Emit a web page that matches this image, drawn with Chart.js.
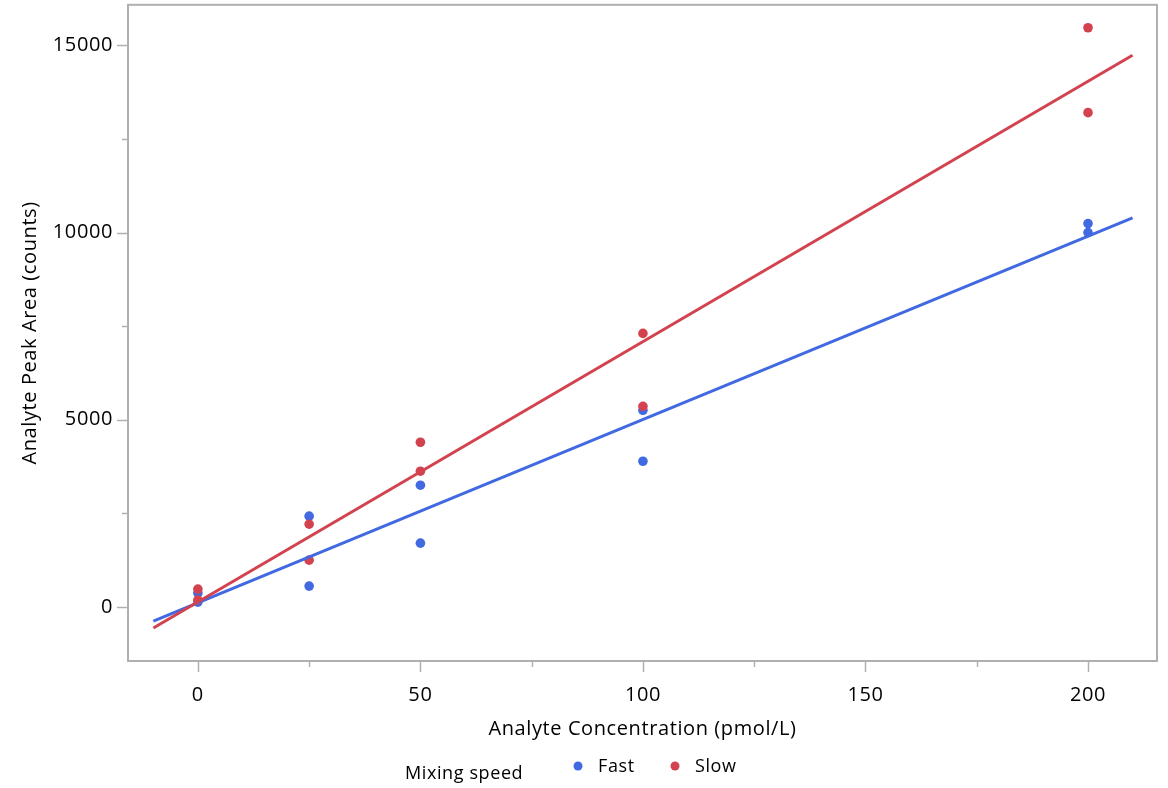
<!DOCTYPE html>
<html>
<head>
<meta charset="utf-8">
<script src="https://cdn.jsdelivr.net/npm/chart.js@4.4.1/dist/chart.umd.min.js"></script>
<style>
  html, body { margin: 0; padding: 0; background: #fff; }
  #wrap { width: 1168px; height: 788px; }
</style>
</head>
<body>
<div id="wrap"><canvas id="myChart" width="1168" height="788"></canvas></div>
<script>
// calibration samples: two replicates per concentration level
var concentrations = [0, 0, 25, 25, 50, 50, 100, 100, 200, 200];
var fastArea = [373, 133, 2427, 560, 3253, 1707, 5253, 3893, 10240, 10000];
var slowArea = [480, 187, 2213, 1253, 4400, 3627, 7307, 5360, 15467, 13200];
var xTicks = [0, 50, 100, 150, 200];
var xMinorTicks = [25, 75, 125, 175];
var yTicks = [0, 5000, 10000, 15000];
var yMinorTicks = [2500, 7500, 12500];
var fitRange = [-10, 210];

var BLUE = '#4169e1';
var RED = '#d2434f';
var AXIS = '#b0b0b0';
var TEXT = '#000000';
var FONT = '"Open Sans", "Noto Sans", sans-serif';

// ordinary least squares line, evaluated at the ends of fitRange
function fitLine(xs, ys) {
    var n = xs.length, mx = 0, my = 0;
    for (var i = 0; i < n; i++) { mx += xs[i]; my += ys[i]; }
    mx /= n; my /= n;
    var sxy = 0, sxx = 0;
    for (var j = 0; j < n; j++) {
        sxy += (xs[j] - mx) * (ys[j] - my);
        sxx += (xs[j] - mx) * (xs[j] - mx);
    }
    var slope = sxy / sxx, icpt = my - slope * mx;
    return fitRange.map(function (x) { return { x: x, y: icpt + slope * x }; });
}

function toPoints(xs, ys) {
    return xs.map(function (x, i) { return { x: x, y: ys[i] }; });
}

// slightly looser text tracking for all labels
var spacingPlugin = {
    id: 'spacing',
    beforeDraw: function (chart) { chart.ctx.letterSpacing = '0.6px'; }
};

// frame around the plot plus major/minor tick marks
var framePlugin = {
    id: 'frame',
    afterDraw: function (chart) {
        var ctx = chart.ctx, a = chart.chartArea;
        var sx = chart.scales.x, sy = chart.scales.y;
        ctx.save();
        ctx.strokeStyle = AXIS;
        ctx.lineWidth = 2;
        ctx.strokeRect(a.left, a.top, a.right - a.left, a.bottom - a.top);
        ctx.lineWidth = 1.5;
        function xt(v, len) {
            var p = Math.round(sx.getPixelForValue(v)) + 0.5;
            ctx.beginPath(); ctx.moveTo(p, a.bottom); ctx.lineTo(p, a.bottom + len); ctx.stroke();
        }
        function yt(v, len) {
            var p = Math.round(sy.getPixelForValue(v)) + 0.5;
            ctx.beginPath(); ctx.moveTo(a.left, p); ctx.lineTo(a.left - len, p); ctx.stroke();
        }
        xTicks.forEach(function (v) { xt(v, 11); });
        xMinorTicks.forEach(function (v) { xt(v, 6); });
        yTicks.forEach(function (v) { yt(v, 11); });
        yMinorTicks.forEach(function (v) { yt(v, 6); });
        ctx.restore();
    }
};

// legend row under the x axis title
var legendPlugin = {
    id: 'mixLegend',
    afterDraw: function (chart) {
        var ctx = chart.ctx;
        ctx.save();
        ctx.font = '18px ' + FONT;
        ctx.fillStyle = TEXT;
        ctx.textBaseline = 'middle';
        ctx.textAlign = 'left';
        ctx.fillText('Mixing speed', 405, 774);
        var items = [[BLUE, 'Fast', 578], [RED, 'Slow', 675]];
        items.forEach(function (it) {
            ctx.fillStyle = it[0];
            ctx.beginPath(); ctx.arc(it[2], 766, 4.5, 0, Math.PI * 2); ctx.fill();
            ctx.fillStyle = TEXT;
            ctx.fillText(it[1], it[2] + 20, 767);
        });
        ctx.restore();
    }
};

function plainLabel(v) { return String(v); }

function createChart() {
    var ctx = document.getElementById('myChart').getContext('2d');
    return new Chart(ctx, {
        type: 'scatter',
        data: {
            datasets: [
                {
                    label: 'Slow fit', type: 'line', order: 0,
                    data: fitLine(concentrations, slowArea),
                    borderColor: RED, borderWidth: 3, pointRadius: 0, fill: false
                },
                {
                    label: 'Fast fit', type: 'line', order: 1,
                    data: fitLine(concentrations, fastArea),
                    borderColor: BLUE, borderWidth: 3, pointRadius: 0, fill: false
                },
                {
                    label: 'Slow', order: 2,
                    data: toPoints(concentrations, slowArea),
                    backgroundColor: RED, borderWidth: 0, pointRadius: 4.8
                },
                {
                    label: 'Fast', order: 3,
                    data: toPoints(concentrations, fastArea),
                    backgroundColor: BLUE, borderWidth: 0, pointRadius: 4.8
                }
            ]
        },
        options: {
            responsive: false,
            animation: false,
            layout: { padding: { top: 4, right: 11, left: 0, bottom: 0 } },
            plugins: { legend: { display: false }, tooltip: { enabled: false } },
            scales: {
                x: {
                    type: 'linear', min: -15.7, max: 215.5,
                    afterBuildTicks: function (s) { s.ticks = xTicks.map(function (v) { return { value: v }; }); },
                    afterFit: function (s) { s.height = 127; s.paddingLeft = 0; s.paddingRight = 0; },
                    grid: { display: false, drawTicks: false },
                    border: { display: false },
                    ticks: { color: TEXT, font: { family: FONT, size: 20 }, padding: 22, maxRotation: 0, callback: plainLabel },
                    title: {
                        display: true, text: 'Analyte Concentration (pmol/L)', color: TEXT,
                        font: { family: FONT, size: 20 }, padding: { top: 0, bottom: 47 }
                    }
                },
                y: {
                    type: 'linear', min: -1440, max: 16080,
                    afterBuildTicks: function (s) { s.ticks = yTicks.map(function (v) { return { value: v }; }); },
                    afterFit: function (s) { s.width = 128; s.paddingTop = 0; s.paddingBottom = 0; },
                    grid: { display: false, drawTicks: false },
                    border: { display: false },
                    ticks: { color: TEXT, font: { family: FONT, size: 20 }, padding: 15, callback: plainLabel },
                    title: {
                        display: true, text: 'Analyte Peak Area (counts)', color: TEXT,
                        font: { family: FONT, size: 20 }, padding: { top: 18, bottom: 0 }
                    }
                }
            }
        },
        plugins: [spacingPlugin, framePlugin, legendPlugin]
    });
}

createChart();
</script>
</body>
</html>
